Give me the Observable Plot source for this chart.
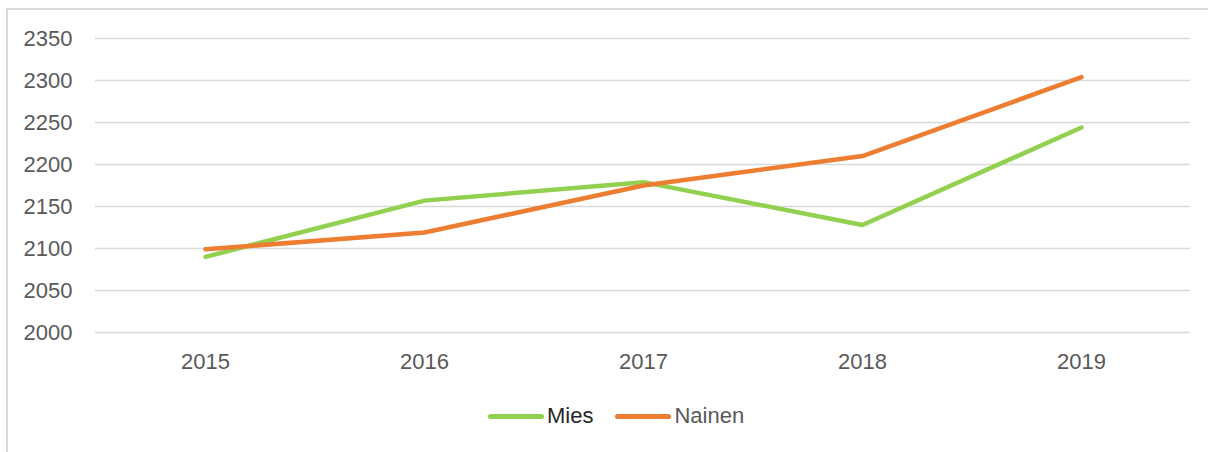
<!DOCTYPE html>
<html>
<head>
<meta charset="utf-8">
<script src="https://cdn.jsdelivr.net/npm/d3@7"></script>
<script src="https://cdn.jsdelivr.net/npm/@observablehq/plot@0.6"></script>
<style>
  html, body { margin: 0; padding: 0; background: #fff; overflow: hidden; }
  body { width: 1208px; height: 452px; position: relative; font-family: "Liberation Sans", Arial, sans-serif; }
  #frame { position: absolute; left: 6px; top: 8px; width: 1400px; height: 600px; border-left: 2px solid #d9d9d9; border-top: 2px solid #d9d9d9; }
  #chart { position: absolute; left: 0; top: 0; }
  #legend { position: absolute; top: 403px; left: 488px; display: flex; align-items: center; font-size: 22px; }
  .sw { display: inline-block; width: 56px; height: 5px; border-radius: 3px; margin-right: 3px; }
  .item { display: flex; align-items: center; margin-right: 22px; }
</style>
</head>
<body>
<div id="frame"></div>
<div id="chart"></div>
<div id="legend"></div>
<script>
const years = ["2015", "2016", "2017", "2018", "2019"];
const mies = [2090, 2157, 2179, 2128, 2244];
const nainen = [2099, 2119, 2175, 2210, 2304];
const yTicks = [2000, 2050, 2100, 2150, 2200, 2250, 2300, 2350];
const seriesNames = ["Mies", "Nainen"];
const seriesColors = ["#92D050", "#ED7D31"];
const legendTextColors = ["#262626", "#595959"];

const rows = [];
years.forEach((y, i) => rows.push({year: y, value: mies[i], series: "Mies"}));
years.forEach((y, i) => rows.push({year: y, value: nainen[i], series: "Nainen"}));

const chart = Plot.plot({
  width: 1208,
  height: 380,
  marginLeft: 95,
  marginRight: 18,
  marginTop: 38,
  marginBottom: 48,
  style: {fontFamily: '"Liberation Sans", Arial, sans-serif', fontSize: "22px", color: "#595959", background: "transparent"},
  x: {type: "point", domain: years, padding: 0.5, label: null, tickSize: 0, tickPadding: 21},
  y: {domain: [2000, 2350], ticks: yTicks, tickFormat: d => String(d), label: null, tickSize: 0, tickPadding: 23},
  color: {domain: seriesNames, range: seriesColors},
  marks: [
    Plot.ruleY(yTicks, {stroke: "#d9d9d9", strokeWidth: 1.5}),
    Plot.line(rows, {x: "year", y: "value", z: "series", stroke: "series", strokeWidth: 4.5, strokeLinecap: "round", strokeLinejoin: "round"})
  ]
});
document.getElementById("chart").appendChild(chart);

const legend = document.getElementById("legend");
seriesNames.forEach((name, i) => {
  const item = document.createElement("div");
  item.className = "item";
  const sw = document.createElement("span");
  sw.className = "sw";
  sw.style.background = seriesColors[i];
  const label = document.createElement("span");
  label.textContent = name;
  label.style.color = legendTextColors[i];
  item.appendChild(sw);
  item.appendChild(label);
  legend.appendChild(item);
});
</script>
</body>
</html>
